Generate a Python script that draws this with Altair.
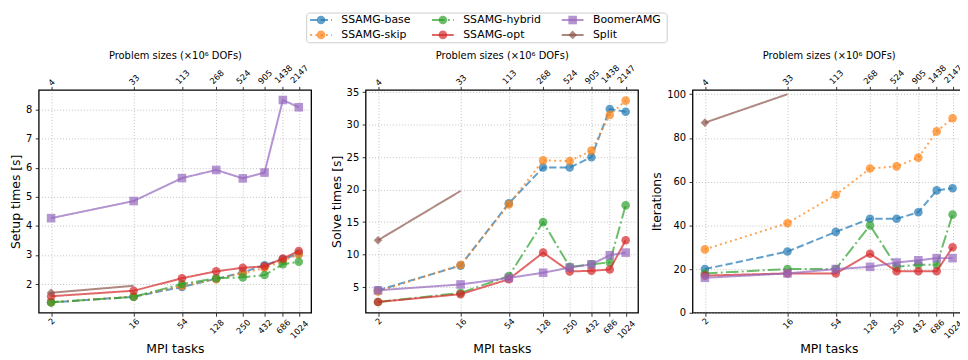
import altair as alt
import pandas as pd

# ---------------- data ----------------
tasks = [2, 16, 54, 128, 250, 432, 686, 1024]
problem_sizes = ["4", "33", "113", "268", "524", "905", "1438", "2147"]
series = ["SSAMG-base", "SSAMG-skip", "SSAMG-hybrid", "SSAMG-opt", "BoomerAMG", "Split"]

setup_base = [1.37, 1.56, 1.90, 2.18, 2.40, 2.65, 2.85, 3.05]
setup_skip = [1.37, 1.57, 1.93, 2.17, 2.37, 2.55, 2.80, 3.02]
setup_hybrid = [1.37, 1.56, 2.00, 2.20, 2.23, 2.31, 2.68, 2.77]
setup_opt = [1.58, 1.77, 2.20, 2.44, 2.56, 2.61, 2.88, 3.14]
setup_boomer = [4.27, 4.86, 5.65, 5.93, 5.64, 5.84, 8.34, 8.09]
setup_split = [1.70, 1.94]

solve_base = [4.5, 8.3, 17.9, 23.4, 23.4, 25.0, 32.4, 32.0]
solve_skip = [4.3, 8.4, 17.7, 24.5, 24.4, 26.0, 31.5, 33.7]
solve_hybrid = [2.7, 4.1, 6.7, 15.0, 8.1, 8.5, 8.8, 17.6]
solve_opt = [2.7, 3.9, 6.2, 10.3, 7.4, 7.5, 7.7, 12.2]
solve_boomer = [4.5, 5.4, 6.4, 7.2, 8.0, 8.5, 9.9, 10.3]
solve_split = [12.2, 19.8]

iter_base = [20, 28, 37, 43, 43, 46, 56, 57]
iter_skip = [29, 41, 54, 66, 67, 71, 83, 89]
iter_hybrid = [18, 20, 20, 40, 21, 22, 22, 45]
iter_opt = [17, 18, 18, 27, 19, 19, 19, 30]
iter_boomer = [16, 18, 20, 21, 23, 24, 25, 25]
iter_split = [87, 100]

# the Split series only shows a marker on its first point
split_marker_tasks = [2]

# ---------------- styles ----------------
colors = ["#1f77b4", "#ff7f0e", "#2ca02c", "#d62728", "#9467bd", "#8c564b"]
dashes = [[7.4, 3.2], [2, 3.3], [12.8, 3.2, 2, 3.2], [1, 0], [1, 0], [1, 0]]
shapes = ["circle", "circle", "circle", "circle", "square", "diamond"]
msizes = [75, 75, 75, 75, 85, 95]
FONT = "DejaVu Sans"


def long_df(*vals):
    rows = []
    for s, v in zip(series, vals):
        for t, y in zip(tasks, v):
            rows.append({"series": s, "tasks": t, "value": y,
                         "marker": s != "Split" or t in split_marker_tasks})
    return pd.DataFrame(rows)


setup_df = long_df(setup_base, setup_skip, setup_hybrid, setup_opt, setup_boomer, setup_split)
solve_df = long_df(solve_base, solve_skip, solve_hybrid, solve_opt, solve_boomer, solve_split)
iter_df = long_df(iter_base, iter_skip, iter_hybrid, iter_opt, iter_boomer, iter_split)

color_enc = alt.Color("series:N", scale=alt.Scale(domain=series, range=colors), legend=None)
dash_enc = alt.StrokeDash("series:N", scale=alt.Scale(domain=series, range=dashes), legend=None)
shape_enc = alt.Shape("series:N", scale=alt.Scale(domain=series, range=shapes), legend=None)
size_enc = alt.Size("series:N", scale=alt.Scale(domain=series, range=msizes), legend=None)

xdom = [1.464, 1398]

pad_bottom = {"condition": [{"test": "datum.value < 10", "value": 4.5},
                            {"test": "datum.value < 100", "value": 7},
                            {"test": "datum.value < 1000", "value": 10}],
              "value": 13}
pad_top = {"condition": [{"test": "datum.value < 10", "value": 4.5},
                         {"test": "datum.value < 54", "value": 7},
                         {"test": "datum.value < 686", "value": 10}],
           "value": 13}

size_expr = "[" + ",".join("'" + p + "'" for p in problem_sizes) + "][indexof([" + \
    ",".join(str(t) for t in tasks) + "], datum.value)]"

bottom_axis = alt.Axis(values=tasks, title="MPI tasks", labelExpr="format(datum.value, 'd')",
                       labelAngle=-45, labelAlign="center", labelBaseline="middle",
                       labelFontSize=8.5, labelPadding=pad_bottom, labelFlush=False,
                       labelOverlap=False, tickSize=3.5, grid=True, titleFontSize=12.5,
                       titlePadding=3, domain=False)
top_axis = alt.Axis(orient="top", values=tasks, title="Problem sizes (×10⁶ DOFs)",
                    labelExpr=size_expr, labelAngle=-45, labelAlign="center",
                    labelBaseline="middle", labelFontSize=8.5, labelPadding=pad_top,
                    labelFlush=False, labelOverlap=False, tickSize=3.5, grid=False,
                    titleFontSize=10, titlePadding=3, domain=False)


def panel(df, ytitle, ydom, yvals):
    xs = alt.Scale(type="log", domain=xdom, nice=False)
    ys = alt.Scale(domain=ydom, nice=False, zero=False)
    y_axis = alt.Axis(values=yvals, title=ytitle, titleFontSize=12.5, labelFontSize=10,
                      tickSize=3.5, labelPadding=3.5, titlePadding=3, grid=True,
                      domain=False, labelFlush=False, labelOverlap=False)
    axis_layer = alt.Chart(df).mark_point(opacity=0).encode(
        x=alt.X("tasks:Q", scale=xs, axis=bottom_axis),
        y=alt.Y("value:Q", scale=ys, axis=y_axis))
    top_layer = alt.Chart(df).mark_point(opacity=0).encode(
        x=alt.X("tasks:Q", scale=xs, axis=top_axis),
        y=alt.Y("value:Q", scale=ys, axis=None))
    layers = [axis_layer, top_layer]
    for s in series:
        b = alt.Chart(df).transform_filter(alt.datum.series == s)
        enc = dict(x=alt.X("tasks:Q", scale=xs, axis=None),
                   y=alt.Y("value:Q", scale=ys, axis=None))
        line = b.mark_line(strokeWidth=2, opacity=0.7).encode(
            color=color_enc, strokeDash=dash_enc, **enc)
        pts = b.transform_filter(alt.datum.marker).mark_point(filled=True, opacity=0.7).encode(
            color=color_enc, shape=shape_enc, size=size_enc, **enc)
        layers += [line, pts]
    return alt.layer(*layers).resolve_axis(x="independent", y="independent").properties(
        width=275, height=225)


p1 = panel(setup_df, "Setup times [s]", [1.011, 8.689], [2, 3, 4, 5, 6, 7, 8])
p2 = panel(solve_df, "Solve times [s]", [1.04, 35.36], [5, 10, 15, 20, 25, 30, 35])
p3 = panel(iter_df, "Iterations", [0, 102], [0, 20, 40, 60, 80, 100])

# ---------------- legend ----------------
leg_df = pd.DataFrame({"series": series, "idx": list(range(len(series)))})
leg_base = alt.Chart(leg_df).transform_calculate(
    col="floor(datum.idx / 2)", row="datum.idx % 2")
lx = alt.X("col:Q", scale=alt.Scale(domain=[0, 1, 2], range=[15, 138, 269], nice=False, zero=False), axis=None)
ly = alt.Y("row:Q", scale=alt.Scale(domain=[0, 1], range=[7.5, 22.5], nice=False, zero=False), axis=None)
leg_rule = leg_base.mark_rule(strokeWidth=2, opacity=0.7, xOffset=-11, x2Offset=11).encode(
    x=lx, x2=alt.X2("col:Q"), y=ly, color=color_enc, strokeDash=dash_enc)
leg_pts = leg_base.mark_point(filled=True, opacity=0.7).encode(
    x=lx, y=ly, color=color_enc, shape=shape_enc, size=size_enc)
leg_txt = leg_base.mark_text(align="left", baseline="middle", dx=20.5, fontSize=11,
                             font=FONT, color="black").encode(x=lx, y=ly, text="series:N")
legend = alt.layer(leg_rule, leg_pts, leg_txt).properties(
    width=364, height=30,
    view=alt.ViewBackground(stroke="#cccccc", strokeWidth=1, cornerRadius=3, fill="white"))

spacer = alt.Chart(pd.DataFrame({"a": [0]})).mark_point(opacity=0).encode(
    x=alt.value(0), y=alt.value(0)).properties(
    width=270, height=30, view=alt.ViewBackground(strokeOpacity=0))

chart = alt.vconcat(
    alt.hconcat(spacer, legend, spacing=0, bounds="flush"),
    alt.hconcat(p1, p2, p3, spacing=55, bounds="flush"),
    spacing=78, bounds="flush"
).properties(
    padding={"left": 0, "top": 0, "right": -6, "bottom": -3}
).configure(font=FONT).configure_view(
    stroke="black", strokeWidth=1.3
).configure_axis(
    labelColor="black", titleColor="black", tickColor="black", tickWidth=0.8,
    gridColor="#b0b0b0", gridDash=[1, 2], gridWidth=0.8, titleFontWeight="normal",
    labelFont=FONT, titleFont=FONT
)

chart.save("out.html", embed_options={"renderer": "svg", "actions": False})
